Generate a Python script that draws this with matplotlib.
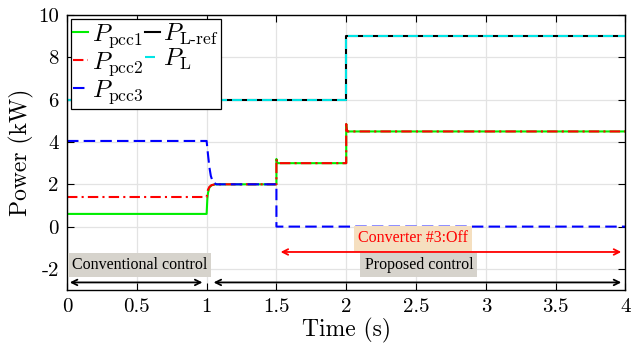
import matplotlib
matplotlib.use("Agg")
import matplotlib.pyplot as plt

# power flow at the PCC of each converter and the load (kW)
t_pcc1 = [0, 1.0, 1.005, 1.01, 1.02, 1.035, 1.06, 1.5, 1.5, 1.505, 1.51, 2.0, 2.0, 2.003, 2.01, 4.0]
p_pcc1 = [0.6, 0.6, 1.3, 1.6, 1.85, 1.95, 2.0, 2.0, 3.2, 3.05, 3.0, 3.0, 4.85, 4.6, 4.5, 4.5]

t_pcc2 = [0, 1.0, 1.01, 1.02, 1.035, 1.06, 1.5, 1.5, 1.505, 1.51, 2.0, 2.0, 2.003, 2.01, 4.0]
p_pcc2 = [1.4, 1.4, 1.75, 1.88, 1.96, 2.0, 2.0, 3.2, 3.05, 3.0, 3.0, 4.85, 4.6, 4.5, 4.5]

t_pcc3 = [0, 1.0, 1.01, 1.02, 1.03, 1.045, 1.07, 1.5, 1.5, 4.0]
p_pcc3 = [4.05, 4.05, 3.4, 2.8, 2.4, 2.1, 2.0, 2.0, 0.0, 0.0]

t_load = [0, 2.0, 2.0, 4.0]
p_load_ref = [6, 6, 9, 9]
p_load = [6, 6, 9, 9]

plt.rcParams['mathtext.fontset'] = 'cm'
plt.rcParams['axes.unicode_minus'] = False

fig = plt.figure(figsize=(6.34, 3.52), dpi=100)
ax = fig.add_axes([0.1057, 0.176, 0.8808, 0.781])

lw = 1.5
l1, = ax.plot(t_pcc1, p_pcc1, color='#00ee00', lw=lw)
l4, = ax.plot(t_load, p_load_ref, color='black', lw=lw)
l5, = ax.plot(t_load, p_load, color='#00e5e5', lw=lw, dashes=(4.8, 2.4))
l2, = ax.plot(t_pcc2, p_pcc2, color='red', lw=lw, dashes=(5, 2, 1, 2))
l3, = ax.plot(t_pcc3, p_pcc3, color='#0000ff', lw=lw, dashes=(5.5, 2.5))

ax.set_xlim(0, 4)
ax.set_ylim(-3, 10)
ax.set_xticks([0, 0.5, 1, 1.5, 2, 2.5, 3, 3.5, 4])
ax.set_xticklabels(['0', '0.5', '1', '1.5', '2', '2.5', '3', '3.5', '4'])
ax.set_yticks([-2, 0, 2, 4, 6, 8, 10])
ax.grid(True, color='#e3e3e3', lw=0.9)
ax.set_axisbelow(True)
ax.tick_params(direction='in', top=True, right=True, length=5, width=0.8,
               labelsize=15, pad=6)
for lab in ax.get_xticklabels() + ax.get_yticklabels():
    lab.set_fontfamily('cmr10')
for s in ax.spines.values():
    s.set_linewidth(1.0)

ax.set_xlabel('Time (s)', fontfamily='cmr10', fontsize=17, labelpad=1)
ax.set_ylabel('Power (kW)', fontfamily='cmr10', fontsize=17, labelpad=3)

leg = ax.legend([l1, l2, l3, l4, l5],
                [r'$P_{\rm pcc1}$', r'$P_{\rm pcc2}$', r'$P_{\rm pcc3}$',
                 r'$P_{\mathrm{L}\text{-}\mathrm{ref}}$', r'$P_{\rm L}$'],
                ncol=2, loc='upper left', fontsize=18, handlelength=0.6,
                handletextpad=0.15, columnspacing=0.05, labelspacing=0.0,
                borderpad=0.1, borderaxespad=0.15, fancybox=False,
                framealpha=1, edgecolor='black')
leg.get_frame().set_linewidth(0.9)

# operating-mode annotations
ax.annotate('', xy=(0, -2.64), xytext=(0.99, -2.64),
            arrowprops=dict(arrowstyle='<->', color='black', lw=1.3))
ax.annotate('', xy=(1.03, -2.64), xytext=(3.99, -2.64),
            arrowprops=dict(arrowstyle='<->', color='black', lw=1.3))
ax.annotate('', xy=(1.51, -1.2), xytext=(3.99, -1.2),
            arrowprops=dict(arrowstyle='<->', color='red', lw=1.3))

ax.text(0.52, -1.8, 'Conventional control', fontfamily='Liberation Serif',
        fontsize=11.5, ha='center', va='center',
        bbox=dict(facecolor='#d6d3cc', edgecolor='none', pad=3))
ax.text(2.52, -1.83, 'Proposed control', fontfamily='Liberation Serif',
        fontsize=11.5, ha='center', va='center',
        bbox=dict(facecolor='#d6d3cc', edgecolor='none', pad=3))
ax.text(2.48, -0.56, 'Converter #3:Off', fontfamily='Liberation Serif',
        fontsize=11.5, color='red', ha='center', va='center',
        bbox=dict(facecolor='#f5dfbf', edgecolor='none', pad=3))

fig.savefig('out.png', dpi=100)
